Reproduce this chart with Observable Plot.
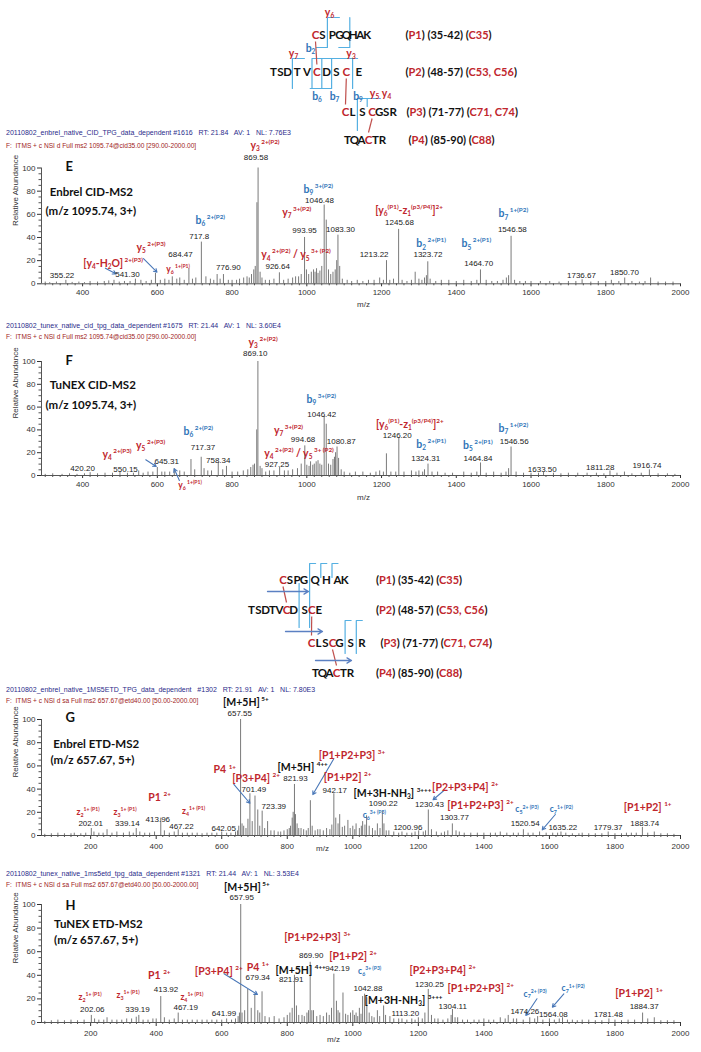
<!DOCTYPE html>
<html><head><meta charset="utf-8">
<script src="https://cdn.jsdelivr.net/npm/d3@7"></script>
<script src="https://cdn.jsdelivr.net/npm/@observablehq/plot@0.6"></script>
<style>
html,body{margin:0;padding:0;background:#fff}
body{width:701px;height:1052px;position:relative;overflow:hidden;font-family:"Liberation Sans",Arial,sans-serif}
.hdr{position:absolute;left:6px;line-height:8px;white-space:pre}
.h1{color:#2b2b8a;font-size:7px}.h2{color:#a01c1c;font-size:6.6px}
</style></head><body>
<script>
// ---------------- data ----------------
const eHeader = ["20110802_enbrel_native_CID_TPG_data_dependent #1616   RT: 21.84   AV: 1   NL: 7.76E3", "F:  ITMS + c NSI d Full ms2 1095.74@cid35.00 [290.00-2000.00]"];
const fHeader = ["20110802_tunex_native_cid_tpg_data_dependent #1675   RT: 21.44   AV: 1   NL: 3.60E4", "F:  ITMS + c NSI d Full ms2 1095.74@cid35.00 [290.00-2000.00]"];
const gHeader = ["20110802_enbrel_native_1MS5ETD_TPG_data_dependent   #1302   RT: 21.91   AV: 1   NL: 7.80E3", "F:  ITMS + c NSI d sa Full ms2 657.67@etd40.00 [50.00-2000.00]"];
const hHeader = ["20110802_tunex_native_1ms5etd_tpg_data_dependent #1321   RT: 21.44   AV: 1   NL: 3.53E4", "F:  ITMS + c NSI d sa Full ms2 657.67@etd40.00 [50.00-2000.00]"];

const cidTicks = [400,600,800,1000,1200,1400,1600,1800,2000];
const etdTicks = [200,400,600,800,1000,1200,1400,1600,1800,2000];
const abundanceTicks = [0,20,40,60,80,100];

const peptideInfo = ["({P1}) (35-42) ({C35})", "({P2}) (48-57) ({C53, C56})", "({P3}) (71-77) ({C71, C74})", "({P4}) (85-90) ({C88})"];

// CID peptide scheme
const cidRows = ["CS PGQHAK", "TSD T V C D S C  E", "CL S CGSR", "TQACTR"];
const cidStarts = [315, 273, 345, 347];
const cidRowY = [35, 72, 112, 140];
const cidSideX = [405, 405, 406, 408];
// [row, cut after residue, y top, y bottom, top tick, bottom tick]
const cidCuts = [[0,2,17,47,12,-11],[0,5,17,47,0,-11],[1,3,58,88,12,0],[1,5,58,88,45.6,0],[1,6,58,88,0,-11.6],[1,7,58,88,0,-11.6],[1,9,58,88,0,0],[2,2,98,130,23,0],[2,3,98,106,0,0]];
const cidLinks = [[0,1,1,6],[1,9,2,1],[2,4,3,4]];
const cidCutLabels = [["y_{6}",329,12,"r"],["b_{2}",310,48,"b"],["y_{7}",293,53,"r"],["y_{3}",350.5,53,"r"],["b_{6}",316.5,96,"b"],["b_{7}",334,96,"b"],["b_{9}",357.5,96,"b"],["y_{5}",374,93,"r"],["y_{4}",386,93,"r"]];
const cidArrows = [];

// ETD peptide scheme
const etdRows = ["CSPG Q H AK", "TSDTVCD SCE", "CLSCG S R", "TQACTR"];
const etdStarts = [282.5, 251, 311, 315];
const etdRowY = [25, 55, 88, 118];
const etdSideX = [375.5, 375.5, 380, 375.5];
const etdCuts = [[0,4,8,72,6,0],[0,5,8,22,6,0],[0,6,8,22,6,0],[1,7,28,72,0,0],[2,5,65,98,6,0],[2,6,65,98,6,0]];
const etdLinks = [[0,1,1,6],[1,9,2,1],[2,4,3,4]];
const etdCutLabels = [];
const etdArrows = [[267,36,308,36],[285,76,322,76],[315,105,351,105]];

// Spectrum E (Enbrel CID) [m/z, relative abundance]
const ePeaks = [[300,1.5],[312,1],[330,1.5],[355.22,3],[372,1.2],[390,1.5],[405,1],[420,2],[440,1.5],[458,2],[470,2.5],[484,3],[498,1.5],[512,2],[527,2],[541.30,4],[556,3],[570,2],[584,3],[595,9],[608,3],[620,4],[631,3],[640,6],[652,4],[660,5],[672,3],[684.47,13],[694,4],[703,5],[717.8,36],[730,6],[742,4],[751,3],[760,8],[768,4],[776.90,8],[790,3],[800,3],[812,3],[820,4],[831,5],[840,6],[846,5],[852,8],[858,12],[862,15],[866.5,70],[869.58,100],[875,10],[880,5],[889,3],[900,3],[912,4],[926.64,9.5],[938,3],[950,4],[962,5],[970,6],[978,6],[985,8],[993.95,40],[999,12],[1005,8],[1012,10],[1018,12],[1022,10],[1026,13],[1030,9],[1035,11],[1040,15],[1046.48,68],[1052,55],[1058,12],[1064,8],[1070,10],[1076,12],[1080,20],[1083.30,42],[1088,15],[1095,4],[1108,3],[1120,2],[1135,3],[1150,2],[1165,3],[1180,3],[1195,5],[1205,3],[1213.22,20],[1222,3],[1232,4],[1245.68,47],[1255,3],[1268,2],[1280,3],[1290,10],[1300,4],[1308,3],[1315,5],[1320,7],[1323.72,19],[1330,4],[1345,2],[1360,3],[1380,3],[1400,2],[1420,3],[1440,2],[1455,3],[1464.70,12],[1480,3],[1495,2],[1510,2],[1525,3],[1534,5],[1540,7],[1546.58,41],[1556,3],[1570,2],[1585,2],[1600,2],[1625,2],[1650,2],[1675,1.5],[1700,2],[1720,2],[1736.67,3.5],[1760,1.5],[1780,2],[1800,2],[1815,3],[1835,2],[1850.70,5],[1870,2],[1890,1.5],[1905,2],[1920,5],[1940,1.5],[1960,1.5],[1980,1.5]];
// [text, m/z, abundance, kind]
const eLabels = [["E",354,100.7,"letter"],["Enbrel CID-MS2",312,78.8,"title"],["(m/z 1095.74, 3+)",300.7,62.7,"title"],
["y_{3}^{ 2+(P2)}",849,119.4,"red"],["b_{9}^{ 3+(P2)}",991,81.4,"blue"],["y_{7}^{ 3+(P2)}",934,61.8,"red"],["[y_{6}^{(P1)}-z_{1}^{(p3/P4)}]^{2+}",1183,63.3,"red"],["b_{6}^{ 2+(P2)}",702,54.7,"blue"],["b_{7}^{ 1+(P2)}",1513,60.4,"blue"],["b_{2}^{ 2+(P1)}",1293,34.5,"blue"],["b_{5}^{ 2+(P1)}",1414,34.5,"blue"],["y_{4}^{ 2+(P2)} / y_{5}^{ 3+ (P2)}",878,25,"red"],["y_{5}^{ 2+(P3)}",544,31.6,"red"],["[y_{4}-H_{2}O]^{ 2+(P3)}",402,17.3,"red"],["y_{6}^{ 1+(P1)}",624,12.3,"redS"],
["869.58",864,109.3,"num"],["1046.48",1034,72,"num"],["993.95",994,46,"num"],["1083.30",1090,47,"num"],["1245.68",1248,53,"num"],["1546.58",1550,46.6,"num"],["717.8",712,41,"num"],["1213.22",1180,25.3,"num"],["1323.72",1324,25.3,"num"],["1464.70",1460,17.3,"num"],["926.64",922,15.3,"num"],["776.90",790,14,"num"],["684.47",662,25.3,"num"],["541.30",520,8.3,"num"],["355.22",345,7.2,"num"],["1736.67",1735,7.2,"num"],["1850.70",1850,9.5,"num"]];
const eArrows = [[461,13.5,489,8.6],[563,21.8,599,10]];

// Spectrum F (TuNEX CID)
const fPeaks = [[300,1],[320,1.5],[345,1],[365,1.5],[385,1],[405,1.5],[420.20,2.5],[440,1.5],[460,2],[480,2],[500,3],[520,2],[536,2],[550.15,4],[562,2],[575,3],[588,3],[600,7],[612,3],[620,3],[633,3],[645.31,6],[660,4],[672,3],[690,14],[700,5],[717.37,16],[725,6],[735,4],[745,4],[763,11],[775,5],[785,8],[800,3],[815,3],[830,4],[842,5],[850,7],[856,9],[860,10],[866,40],[869.10,100],[875,8],[880,6],[890,3],[900,4],[912,4],[927.25,7],[940,4],[950,4],[962,5],[975,6],[985,10],[994.68,26],[1000,9],[1006,8],[1010,12],[1016,9],[1020,10],[1025,12],[1030,13],[1035,10],[1040,9],[1046.42,52],[1052,45],[1058,10],[1064,9],[1070,14],[1074,16],[1077,20],[1080.87,25],[1085,15],[1092,5],[1100,3],[1115,2],[1130,3],[1150,3],[1170,2],[1185,3],[1195,4],[1205,3],[1213,19],[1225,3],[1238,3],[1246.20,33],[1260,3],[1280,4],[1292,3],[1300,4],[1310,3],[1315,5],[1324.31,10],[1335,3],[1350,3],[1370,2],[1390,2],[1420,3],[1440,2],[1455,3],[1464.84,11],[1480,2],[1500,3],[1520,2],[1533,3],[1540,6],[1546.56,25],[1560,3],[1580,2],[1600,2],[1620,2],[1633.50,3],[1660,2],[1680,1.5],[1700,2],[1725,2],[1750,2],[1775,2],[1795,1.5],[1811.28,4],[1830,2],[1850,3],[1870,1.5],[1895,2],[1916.74,5],[1940,1.5],[1965,1.5],[1985,1]];
const fLabels = [["F",354,100.5,"letter"],["TuNEX CID-MS2",312,78.9,"title"],["(m/z 1095.74, 3+)",300.7,61.4,"title"],
["y_{3}^{ 2+(P2)}",844,116.9,"red"],["b_{9}^{ 3+(P2)}",999,66.4,"blue"],["[y_{6}^{(P1)}-z_{1}^{(p3/P4)}]^{2+}",1185,45,"red"],["b_{7}^{ 1+(P2)}",1513,41,"blue"],["y_{7}^{ 3+(P2)}",912,39.5,"red"],["b_{6}^{ 2+(P2)}",670,38.6,"blue"],["b_{2}^{ 2+(P1)}",1293,27.2,"blue"],["b_{5}^{ 2+(P1)}",1418,26.3,"blue"],["y_{4}^{ 2+(P2)} / y_{5}^{ 3+ (P2)}",886,19.4,"red"],["y_{4}^{ 2+(P3)}",453,18.4,"red"],["y_{5}^{ 2+(P3)}",543,26.3,"red"],["y_{6}^{ 1+(P1)}",656,-8.8,"redS"],
["869.10",862,107.3,"num"],["1046.42",1040,54,"num"],["994.68",990,31.3,"num"],["1080.87",1092,29.6,"num"],["1246.20",1242,35.3,"num"],["1546.56",1555,30,"num"],["717.37",722,24.3,"num"],["758.34",763,13.2,"num"],["1324.31",1318,14.6,"num"],["1464.84",1458,14.6,"num"],["927.25",920,9.4,"num"],["645.31",625,12.5,"num"],["550.15",515,5.3,"num"],["420.20",400,5.9,"num"],["1633.50",1630,5.3,"num"],["1811.28",1785,7.3,"num"],["1916.74",1910,8.8,"num"]];
const fArrows = [[569,13.8,597,7.9],[659,-4.4,645,5.9]];

// Spectrum G (Enbrel ETD)
const gPeaks = [[60,1],[80,1.5],[100,2],[120,1.5],[140,1.5],[150,2],[170,1.5],[185,2],[202.01,6],[210,3],[225,2],[238,2],[250,5],[265,2],[280,3],[300,2],[318,3],[330,2],[339.14,6],[350,3],[365,2],[380,2],[395,3],[413.96,15],[425,4],[440,2],[455,3],[467.22,5],[480,2],[495,2],[510,2],[525,2],[540,1.5],[555,2],[570,2],[585,2],[600,3],[615,2],[628,2],[642.05,3],[648,4],[652,8],[657.55,100],[662,10],[667,8],[674,6],[680,14],[686,36],[693,12],[701.49,34],[710,22],[716,8],[723.39,21],[731,6],[740,12],[750,4],[760,4],[772,3],[780,3],[790,4],[800,5],[806,6],[810,8],[815,15],[818,20],[821.93,44],[825,18],[830,10],[835,6],[842,6],[850,5],[858,4],[864,6],[870.5,30],[876,8],[885,4],[893,5],[900,5],[910,4],[920,6],[930,5],[936,9],[942.17,36],[948,15],[955,10],[960,18],[968,7],[975,8],[985,13],[992,6],[1000,8],[1006,5],[1010,10],[1020,6],[1026,8],[1030,12],[1037,9],[1042,17],[1050,8],[1060,6],[1068,4],[1075,10],[1083,6],[1090.22,21],[1095,10],[1102,4],[1110,4],[1125,3],[1140,2],[1150,3],[1165,2],[1180,2],[1190,3],[1200.96,4],[1215,3],[1222,4],[1230.43,22],[1240,5],[1255,3],[1270,2],[1280,3],[1290,4],[1303.77,10],[1315,4],[1325,3],[1340,2],[1360,2],[1380,2],[1400,2],[1420,2],[1435,2],[1450,3],[1470,2],[1490,2],[1505,2],[1520.54,5],[1535,2],[1550,2],[1570,3],[1590,2],[1610,2],[1625,2],[1635.22,3],[1650,2],[1670,1.5],[1690,1.5],[1700,2],[1720,1.5],[1740,1.5],[1760,1.5],[1779.37,3],[1800,1.5],[1820,1.5],[1835,2],[1850,2],[1865,2],[1883.74,7],[1900,2],[1920,3],[1940,1.5],[1960,1.5],[1980,1]];
const gLabels = [["G",123,101.5,"letter"],["Enbrel ETD-MS2",86,79,"title"],["(m/z 657.67, 5+)",77.5,64.7,"title"],
["[M+5H]^{ 5+}",604,114.9,"black"],["P4 ^{1+}",575,56.5,"red"],["[P3+P4] ^{2+}",632,48.9,"red"],["[M+5H] ^{4++}",770,58.6,"black"],["[P1+P2+P3] ^{3+}",896,69,"red"],["[P1+P2] ^{2+}",911,49.7,"red"],["[M+3H-NH_{3}] ^{3+++}",1002,36.5,"black"],["c_{6}^{3+ (P3)}",1030,17.5,"blueS"],["[P2+P3+P4] ^{2+}",1242,41.6,"red"],["[P1+P2+P3] ^{2+}",1288,25.9,"red"],["c_{5}^{2+ (P3)}",1496,22.2,"blueS"],["c_{7}^{1+ (P2)}",1601,22.2,"blueS"],["[P1+P2] ^{1+}",1827,24.4,"red"],["P1 ^{2+}",376,33,"red"],["z_{2}^{1+ (P1)}",157,20.1,"redS"],["z_{3}^{1+ (P1)}",270,20.1,"redS"],["z_{4}^{1+ (P1)}",479,20.9,"redS"],
["657.55",655,105.4,"num"],["821.93",825,48.9,"num"],["701.49",698,39.4,"num"],["723.39",759,25.3,"num"],["942.17",945,38.8,"num"],["1090.22",1093,27.5,"num"],["1230.43",1234,26.7,"num"],["1303.77",1310,15.3,"num"],["1200.96",1168,7.2,"num"],["1520.54",1526,10,"num"],["1635.22",1641,7.2,"num"],["1779.37",1779,7.2,"num"],["1883.74",1891,10.6,"num"],["413.96",405,13.5,"num"],["467.22",477,7.8,"num"],["202.01",200,10,"num"],["339.14",312,10.6,"num"],["642.05",606,5.8,"num"]];
const gArrows = [[637,44,686,27.8],[942,66.1,878,35.3],[1278,38.8,1245,30.8],[1618,18.1,1578,4.9]];

// Spectrum H (TuNEX ETD)
const hPeaks = [[60,1],[80,1.5],[100,2],[120,1.5],[140,2],[160,1.5],[180,2],[202.06,6],[212,3],[225,2],[240,2],[250,4],[265,2],[280,2],[295,2],[310,3],[325,3],[339.19,4.5],[347,6],[360,2],[375,2],[390,3],[400,3],[413.92,22],[425,4],[440,2],[455,3],[467.19,8],[480,2],[495,2],[510,2],[525,2],[540,2],[555,2],[570,2],[585,2],[600,2],[615,3],[630,2],[641.99,3],[650,5],[654,8],[657.95,100],[662,8],[670,10],[679.34,28],[690,12],[701,24],[710,10],[716,8],[723,26],[732,5],[745,4],[760,5],[775,3],[790,4],[800,6],[808,8],[815,12],[821.91,40],[828,14],[835,6],[845,6],[852,5],[860,8],[865,10],[869.90,51],[875,10],[880,10],[890,5],[900,6],[910,5],[920,8],[928,6],[935,12],[942.19,41],[950,18],[955,10],[960,8],[970,25],[978,7],[985,6],[993,8],[1000,10],[1005,6],[1010,8],[1015,5],[1020,12],[1025,7],[1030,22],[1036,24],[1042.88,21],[1050,8],[1058,5],[1065,4],[1075,10],[1082,5],[1094,14],[1100,6],[1113.20,5],[1125,3],[1140,3],[1150,3],[1165,2],[1180,3],[1190,2],[1200,4],[1212,3],[1220,8],[1230.25,28],[1240,6],[1250,3],[1260,3],[1275,2],[1290,3],[1300,6],[1304.11,11],[1312,4],[1320,4],[1335,2],[1350,2],[1370,2],[1385,2],[1400,3],[1415,2],[1430,2],[1450,4],[1465,3],[1474.26,6],[1490,3],[1500,3],[1520,2],[1540,4],[1555,3],[1564.08,5],[1580,2],[1600,3],[1615,2],[1630,3],[1640,4],[1655,2],[1670,2],[1685,1.5],[1700,2],[1720,2],[1740,1.5],[1760,1.5],[1781.48,3],[1800,2],[1820,1.5],[1840,2],[1860,2],[1884.37,8],[1900,3],[1920,4],[1940,1.5],[1960,1.5],[1980,1.5]];
const hLabels = [["H",123,99.2,"letter"],["TuNEX ETD-MS2",88.5,83,"title"],["(m/z 657.67, 5+)",88.5,69.5,"title"],
["[M+5H]^{ 5+}",607,114.2,"black"],["[P1+P2+P3] ^{3+}",791,72.3,"red"],["[M+5H] ^{4++}",764,44,"black"],["[P1+P2] ^{2+}",928,55.9,"red"],["c_{6}^{3+ (P3)}",1016,43.5,"blueS"],["[P2+P3+P4] ^{2+}",1173,44,"red"],["[M+3H-NH_{3}] ^{3+++}",1036,18.5,"black"],["[P1+P2+P3] ^{2+}",1289,28.6,"red"],["c_{7}^{2+ (P3)}",1521,24.3,"blueS"],["c_{7}^{1+ (P2)}",1637,28.6,"blueS"],["[P1+P2] ^{1+}",1801,24.3,"red"],["P1 ^{2+}",375,39.8,"red"],["z_{2}^{1+ (P1)}",163,21.4,"redS"],["z_{3}^{1+ (P1)}",279,22.9,"redS"],["z_{4}^{1+ (P1)}",474,21.5,"redS"],["[P3+P4] ^{2+}",518,43.5,"red"],["P4 ^{1+}",676,46.9,"red"],
["657.95",661,105.7,"num"],["869.90",873,56.8,"num"],["821.91",812,36.4,"num"],["942.19",953,45.5,"num"],["1042.88",1046,28.6,"num"],["1230.25",1234,32.2,"num"],["1304.11",1305,13.6,"num"],["1113.20",1160,7.3,"num"],["1474.26",1525,9.6,"num"],["1564.08",1612,6.8,"num"],["1781.48",1780,6.8,"num"],["1884.37",1889,13.6,"num"],["413.92",430,27.6,"num"],["202.06",205,11,"num"],["339.19",343,11,"num"],["467.19",490,13,"num"],["641.99",607,7.3,"num"],["679.34",710,37.9,"num"]];
const hArrows = [[607,41.3,709,23.7],[1562,20.1,1528,5.9],[1644,24.3,1609,13]];

// ---------------- styles ----------------
const RED = "#c0262d", BLUE = "#2f74b8", BLACK = "#111", LBLUE = "#55b0e2", ARROW = "#4a78b8";
const LATO = "Lato, 'Open Sans', sans-serif", ARIAL = "'Liberation Sans', Arial, sans-serif";
const KIND = {
  num:{font:ARIAL,size:8,weight:"normal",fill:"#1a1a1a",anchor:"middle"},
  red:{font:LATO,size:10.5,weight:"bold",fill:RED,anchor:"start"},
  redS:{font:LATO,size:8.5,weight:"bold",fill:RED,anchor:"start"},
  blue:{font:LATO,size:10.5,weight:"bold",fill:BLUE,anchor:"start"},
  blueS:{font:LATO,size:8.5,weight:"bold",fill:BLUE,anchor:"start"},
  black:{font:LATO,size:10.5,weight:"bold",fill:BLACK,anchor:"start"},
  letter:{font:LATO,size:13,weight:"bold",fill:BLACK,anchor:"start"},
  title:{font:LATO,size:11.5,weight:"bold",fill:BLACK,anchor:"start"}
};

// ---------------- rich text (sub/superscript, red) ----------------
function parseMarkup(s){
  const out=[]; const stack=[]; let buf="";
  const flush=()=>{ if(buf){ out.push({t:buf,m:stack.slice()}); buf=""; } };
  for(let i=0;i<s.length;i++){
    const c=s[i];
    if((c==="^"||c==="_") && s[i+1]==="{"){ flush(); stack.push(c==="^"?"sup":"sub"); i++; continue; }
    if(c==="{"){ flush(); stack.push("red"); continue; }
    if(c==="}"){ flush(); stack.pop(); continue; }
    buf+=c;
  }
  flush();
  return out;
}
function richify(root){
  root.querySelectorAll("text").forEach(t=>{
    const s=t.textContent;
    if(!/[{}]/.test(s)) return;
    const fs=parseFloat(getComputedStyle(t).fontSize)||10;
    const segs=parseMarkup(s);
    while(t.firstChild) t.removeChild(t.firstChild);
    let shift=0;
    for(const g of segs){
      const ts=document.createElementNS("http://www.w3.org/2000/svg","tspan");
      let target=0,size=fs;
      if(g.m.includes("sup")){size=fs*0.6;target=-0.45*fs;}
      else if(g.m.includes("sub")){size=fs*0.62;target=0.22*fs;}
      if(g.m.includes("red")) ts.setAttribute("fill",RED);
      ts.setAttribute("font-size",size);
      if(target!==shift){ ts.setAttribute("dy",(target-shift).toFixed(2)); shift=target; }
      ts.textContent=g.t;
      t.appendChild(ts);
    }
  });
}
function place(svg, top){
  svg.style.position="absolute"; svg.style.left="0px"; svg.style.top=top+"px";
  svg.style.overflow="visible"; svg.style.background="transparent";
  document.body.appendChild(svg);
  richify(svg);
}
function header(lines, ys){
  lines.forEach((l,i)=>{
    const d=document.createElement("div");
    d.className="hdr "+(i===0?"h1":"h2");
    d.style.top=(ys[i]-4)+"px";
    d.textContent=l;
    document.body.appendChild(d);
  });
}

// ---------------- peptide scheme ----------------
function scheme(c){
  const LW=7; const letters=[];
  const centers=c.rows.map((row,r)=>{
    let x=c.starts[r]; const cs=[];
    for(const ch of row){ if(ch===" "){ x+=c.gap*LW; continue; } letters.push({ch,x,y:c.ys[r]}); cs.push(x); x+=LW; }
    return cs;
  });
  const cutPts=[];
  c.cuts.forEach(([r,k,y1,y2,tt,bt],i)=>{
    const cx=(centers[r][k-1]+centers[r][k])/2;
    if(tt) cutPts.push({x:cx+tt,y:y1,id:i});
    cutPts.push({x:cx,y:y1,id:i},{x:cx,y:y2,id:i});
    if(bt) cutPts.push({x:cx+bt,y:y2,id:i});
  });
  const links=c.links.map(([ra,ia,rb,ib])=>({x1:centers[ra][ia-1],y1:c.ys[ra]+6,x2:centers[rb][ib-1],y2:c.ys[rb]-8}));
  const side=peptideInfo.map((t,i)=>({t,x:c.sideX[i],y:c.ys[i]}));
  const svg=Plot.plot({
    width:701,height:c.height,margin:0,
    x:{domain:[0,701],range:[0,701],axis:null},
    y:{domain:[0,c.height],range:[0,c.height],axis:null},
    marks:[
      Plot.line(cutPts,{x:"x",y:"y",z:"id",stroke:LBLUE,strokeWidth:1.2}),
      Plot.link(links,{x1:"x1",y1:"y1",x2:"x2",y2:"y2",stroke:"#c0504d",strokeWidth:1.2}),
      Plot.arrow(c.arrows,{x1:d=>d[0],y1:d=>d[1],x2:d=>d[2],y2:d=>d[3],stroke:"#5b80c2",strokeWidth:1.3,headLength:6}),
      Plot.text(letters,{x:"x",y:"y",text:"ch",fill:d=>d.ch==="C"?RED:BLACK,fontWeight:"bold",fontSize:11.5,fontFamily:LATO}),
      Plot.text(side,{x:"x",y:"y",text:"t",textAnchor:"start",fill:BLACK,fontWeight:"bold",fontSize:11,fontFamily:LATO}),
      Plot.text(c.labels,{x:d=>d[1],y:d=>d[2],text:d=>d[0],fill:d=>d[3]==="r"?RED:BLUE,fontWeight:"bold",fontSize:10.5,fontFamily:LATO})
    ]
  });
  place(svg,c.top);
}

// ---------------- spectrum panel ----------------
function spectrum(c){
  const L=41, R=680;
  const y100=c.y0-100*c.unit;
  const marginTop=y100-c.top;
  const marginBottom=c.height-(c.y0-c.top);
  const pxPerMz=(R-L)/(c.domain[1]-c.domain[0]);
  const xMinor=d3.range(Math.ceil(c.domain[0]/20)*20,c.domain[1]+1,20).filter(v=>!c.ticks.includes(v));
  const yMinor=d3.range(0,101,5).filter(v=>v%20);
  const textMarks=Object.keys(KIND).map(k=>Plot.text(c.labels.filter(l=>l[3]===k),{
    x:d=>d[1],y:d=>d[2],text:d=>d[0],fill:KIND[k].fill,fontSize:KIND[k].size,fontWeight:KIND[k].weight,fontFamily:KIND[k].font,textAnchor:KIND[k].anchor}));
  const svg=Plot.plot({
    width:701,height:c.height,marginLeft:L,marginRight:701-R,marginTop,marginBottom,
    style:"font-family:'Liberation Sans',Arial,sans-serif;font-size:8px;color:#333;background:transparent;overflow:visible",
    x:{domain:c.domain,ticks:c.ticks,tickFormat:d=>String(d),tickSize:c.tickSize,tickPadding:c.tickSize,label:null},
    y:{domain:[0,100],ticks:abundanceTicks,tickFormat:d=>String(d),tickSize:4,tickPadding:2,label:null},
    marks:[
      Plot.ruleX(c.peaks,{x:d=>d[0],y1:0,y2:d=>d[1],stroke:"#7a7a7a",strokeWidth:1}),
      Plot.ruleY([0],{x1:c.domain[0],x2:c.domain[1],stroke:"#555"}),
      Plot.ruleX([c.domain[0]],{y1:0,y2:100,stroke:"#555"}),
      Plot.ruleX(xMinor,{x:d=>d,y1:0,y2:-2/c.unit,stroke:"#555"}),
      Plot.ruleY(yMinor,{y:d=>d,x1:c.domain[0]-2.5/pxPerMz,x2:c.domain[0],stroke:"#555"}),
      Plot.text(["Relative Abundance"],{text:d=>d,frameAnchor:"left",rotate:-90,dx:-26,fontSize:8,fill:"#333"}),
      Plot.text(["m/z"],{text:d=>d,frameAnchor:"bottom",dx:c.mzDx,dy:c.mzDy,fontSize:8,fill:"#333"}),
      Plot.arrow(c.arrows,{x1:d=>d[0],y1:d=>d[1],x2:d=>d[2],y2:d=>d[3],stroke:ARROW,strokeWidth:1.1,headLength:5}),
      ...textMarks
    ]
  });
  place(svg,c.top);
}

// ---------------- build ----------------
scheme({rows:cidRows,starts:cidStarts,ys:cidRowY,gap:0.4,cuts:cidCuts,links:cidLinks,labels:cidCutLabels,arrows:cidArrows,sideX:cidSideX,top:0,height:150});
header(eHeader,[133,145.5]);
spectrum({peaks:ePeaks,labels:eLabels,arrows:eArrows,domain:[290,2000],ticks:cidTicks,top:128,height:190,y0:283.3,unit:1.158,tickSize:3,mzDx:2.5,mzDy:23.4});
header(fHeader,[326,337]);
spectrum({peaks:fPeaks,labels:fLabels,arrows:fArrows,domain:[290,2000],ticks:cidTicks,top:320,height:190,y0:475,unit:1.14,tickSize:3,mzDx:2.5,mzDy:24});
scheme({rows:etdRows,starts:etdStarts,ys:etdRowY,gap:0.6,cuts:etdCuts,links:etdLinks,labels:etdCutLabels,arrows:etdArrows,sideX:etdSideX,top:555,height:130});
header(gHeader,[690,700.5]);
spectrum({peaks:gPeaks,labels:gLabels,arrows:gArrows,domain:[50,2000],ticks:etdTicks,top:690,height:170,y0:835,unit:1.16,tickSize:4,mzDx:-38.5,mzDy:15});
header(hHeader,[874,884.5]);
spectrum({peaks:hPeaks,labels:hLabels,arrows:hArrows,domain:[50,2000],ticks:etdTicks,top:868,height:184,y0:1022,unit:1.18,tickSize:4,mzDx:-27.5,mzDy:19.7});
</script>
</body></html>
